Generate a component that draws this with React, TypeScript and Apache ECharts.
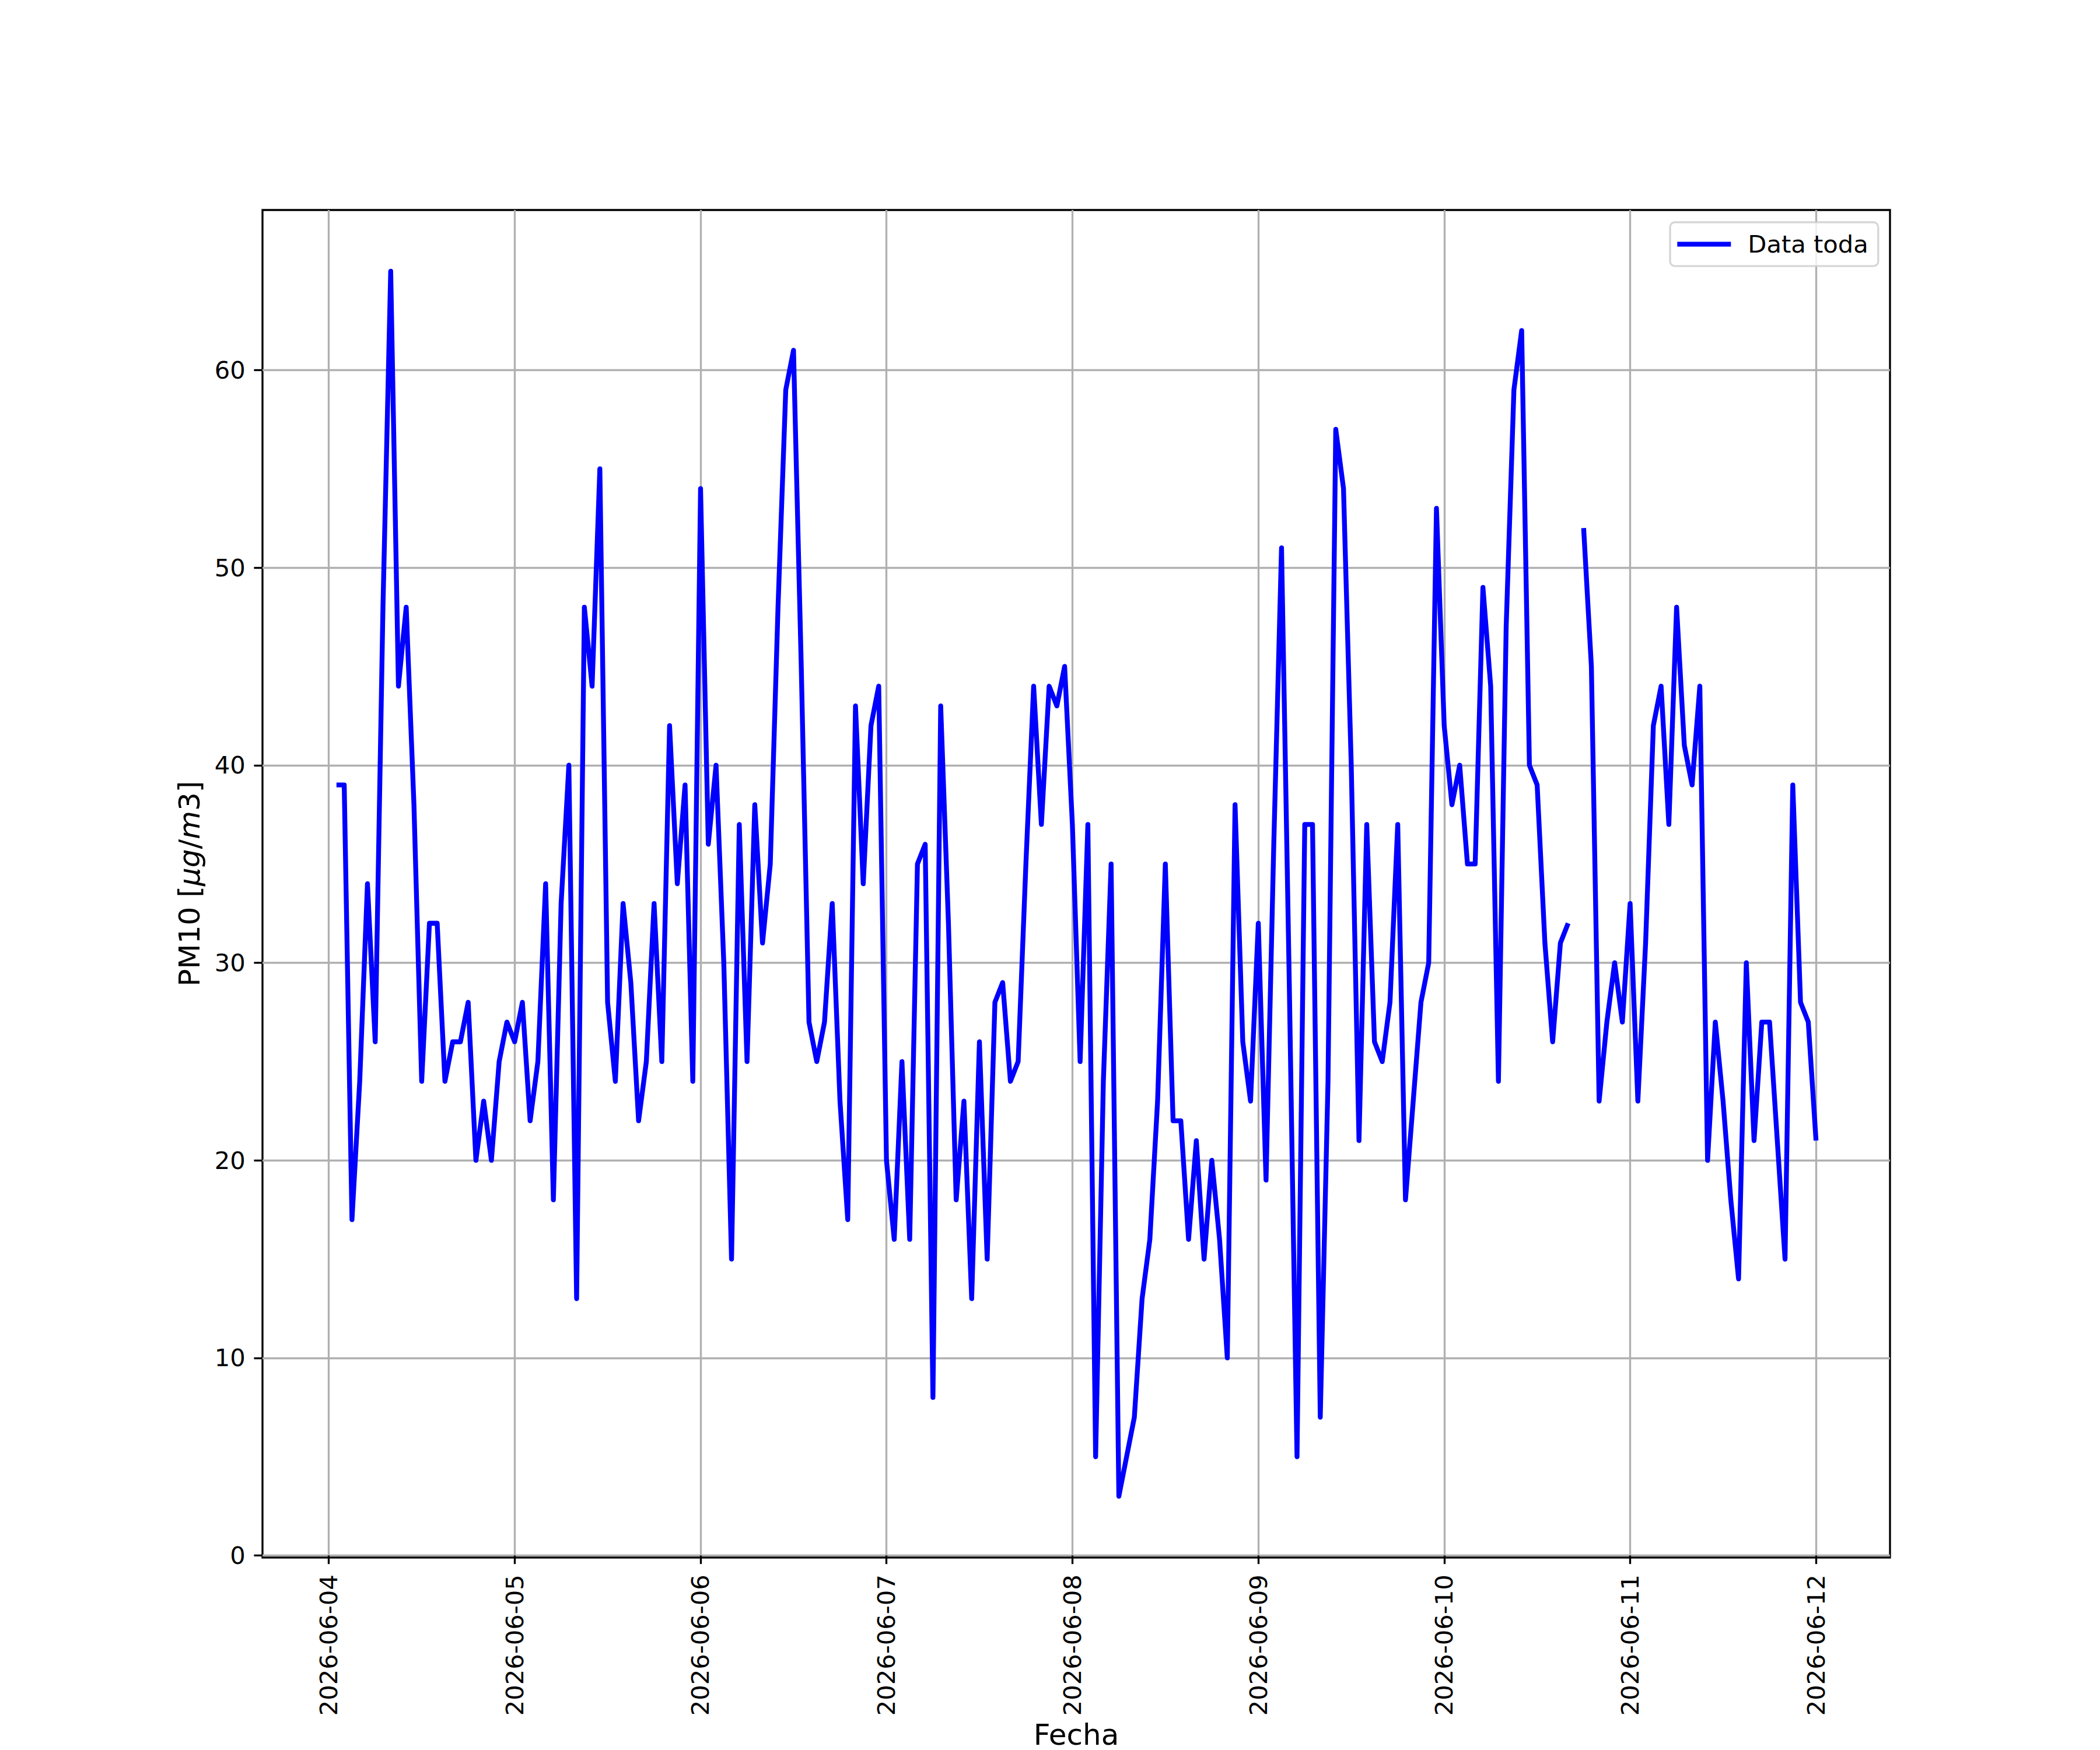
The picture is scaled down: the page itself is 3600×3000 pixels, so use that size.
import React, { useEffect, useRef } from "react";
import * as echarts from "echarts";

// Hourly PM10 readings, first reading at 2026-06-04 01:00
const FECHA_INICIO = "2026-06-04T01:00:00Z";
const dia04 = [39, 39, 17, 24, 34, 26, 48, 65, 44, 48, 38, 24, 32, 32, 24, 26, 26, 28, 20, 23, 20, 25, 27, 26];
const dia05 = [28, 22, 25, 34, 18, 33, 40, 13, 48, 44, 55, 28, 24, 33, 29, 22, 25, 33, 25, 42, 34, 39, 24, 54];
const dia06 = [36, 40, 30, 15, 37, 25, 38, 31, 35, 48, 59, 61, 45, 27, 25, 27, 33, 23, 17, 43, 34, 42, 44, 20];
const dia07 = [16, 25, 16, 35, 36, 8, 43, 32, 18, 23, 13, 26, 15, 28, 29, 24, 25, 35, 44, 37, 44, 43, 45, 37];
const dia08 = [25, 37, 5, 24, 35, 3, 5, 7, 13, 16, 23, 35, 22, 22, 16, 21, 15, 20, 16, 10, 38, 26, 23, 32];
const dia09 = [19, 36, 51, 29, 5, 37, 37, 7, 24, 57, 54, 40, 21, 37, 26, 25, 28, 37, 18, 23, 28, 30, 53, 42];
const dia10 = [38, 40, 35, 35, 49, 44, 24, 47, 59, 62, 40, 39, 31, 26, 31, 32, null, 52, 45, 23, 27, 30, 27, 33];
const dia11 = [23, 31, 42, 44, 37, 48, 41, 39, 44, 20, 27, 23, 18, 14, 30, 21, 27, 27, 21, 15, 39, 28, 27, 21];
const pm10: (number | null)[] = [...dia04, ...dia05, ...dia06, ...dia07, ...dia08, ...dia09, ...dia10, ...dia11];

const fechasTicks = [
  "2026-06-04", "2026-06-05", "2026-06-06", "2026-06-07", "2026-06-08",
  "2026-06-09", "2026-06-10", "2026-06-11", "2026-06-12",
];
const yTicks = [0, 10, 20, 30, 40, 50, 60];
const Y_MIN = -0.1;
const Y_MAX = 68.1;
const SERIE = "Data toda";

const FONT = "DejaVu Sans";
const PT = 300 / 72; // px per point at 300 dpi

export default function App() {
  const ref = useRef<HTMLDivElement>(null);

  useEffect(() => {
    document.body.style.margin = "0";
    const chart = echarts.init(ref.current!, null, { renderer: "svg", width: 3600, height: 3000 });
    const H = 3600 * 1000;
    const t0 = Date.parse(FECHA_INICIO);
    const data = pm10.map((v, i) => [t0 + i * H, v]);
    const span = (pm10.length - 1) * H;
    const xMin = t0 - 0.05 * span;
    const xMax = t0 + span + 0.05 * span;
    const tickTs = fechasTicks.map((d) => Date.parse(d + "T00:00:00Z"));

    const tickLen = 3.5 * PT;
    const lw = 0.8 * PT;
    const f12 = 12 * PT;

    chart.setOption({
      animation: false,
      backgroundColor: "#ffffff",
      textStyle: { fontFamily: FONT },
      grid: {
        left: 450,
        right: 360,
        top: 360,
        bottom: 330,
        containLabel: false,
        outerBoundsMode: "none",
        show: true,
        borderColor: "#000000",
        borderWidth: lw,
        backgroundColor: "transparent",
      },
      legend: {
        show: true,
        data: [{ name: SERIE, icon: "rect" }],
        left: 2863,
        top: 381,
        orient: "vertical",
        padding: [16.6, 17, 16.6, 12.3],
        itemWidth: 92,
        itemHeight: 2 * PT,
        backgroundColor: "rgba(255,255,255,0.8)",
        borderColor: "rgba(204,204,204,0.8)",
        borderWidth: lw,
        borderRadius: 8.3,
        itemStyle: { color: "#0000ff", borderWidth: 0 },
        textStyle: {
          fontFamily: FONT,
          fontSize: 10 * PT,
          color: "#000000",
          padding: [0, 0, 0, 24],
        },
      },
      xAxis: {
        type: "value",
        min: xMin,
        max: xMax,
        name: "Fecha",
        nameLocation: "middle",
        nameGap: 279,
        nameTextStyle: {
          fontFamily: FONT,
          fontSize: f12,
          lineHeight: 30,
          color: "#000000",
          verticalAlign: "top",
        },
        axisLine: { show: false },
        axisTick: {
          show: true,
          inside: false,
          length: tickLen,
          lineStyle: { color: "#000000", width: lw },
          customValues: tickTs,
        },
        axisLabel: {
          show: true,
          rotate: 90,
          margin: 2 * tickLen,
          fontFamily: FONT,
          fontSize: 10 * PT,
          color: "#000000",
          customValues: tickTs,
          formatter: (v: number) => new Date(v).toISOString().slice(0, 10),
        },
        splitLine: { show: true, lineStyle: { color: "#b0b0b0", width: lw } },
      },
      yAxis: {
        type: "value",
        min: Y_MIN,
        max: Y_MAX,
        name: "{r|PM10 [}{i|μg}{r|/}{i|m}{r|3]}",
        nameLocation: "middle",
        nameRotate: 90,
        nameGap: 100,
        nameTextStyle: {
          fontFamily: FONT,
          fontSize: f12,
          color: "#000000",
          rich: {
            r: { fontFamily: FONT, fontSize: f12, color: "#000000" },
            i: { fontFamily: FONT, fontSize: f12, color: "#000000", fontStyle: "italic" },
          },
        },
        axisLine: { show: false },
        axisTick: {
          show: true,
          inside: false,
          length: tickLen,
          lineStyle: { color: "#000000", width: lw },
          customValues: yTicks,
        },
        axisLabel: {
          show: true,
          margin: 2 * tickLen,
          fontFamily: FONT,
          fontSize: 10 * PT,
          color: "#000000",
          customValues: yTicks,
          formatter: (v: number) => String(v),
        },
        splitLine: { show: true, lineStyle: { color: "#b0b0b0", width: lw } },
      },
      series: [
        {
          name: SERIE,
          type: "line",
          data,
          symbol: "none",
          showSymbol: false,
          connectNulls: false,
          color: "#0000ff",
          lineStyle: { color: "#0000ff", width: 2 * PT, cap: "butt", join: "round" },
          z: 3,
        },
      ],
    });

    return () => chart.dispose();
  }, []);

  return <div ref={ref} style={{ width: 3600, height: 3000 }} />;
}
